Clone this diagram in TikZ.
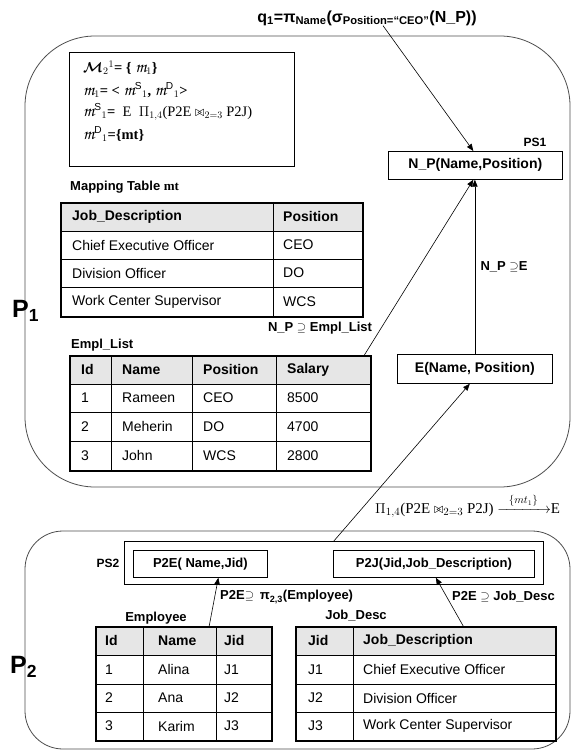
\documentclass[tikz,border=0pt]{standalone}
\usepackage[T1,TU]{fontenc}
\usepackage{amsmath}
\usepackage{amssymb}
\usepackage{fontspec}
\setmainfont{Liberation Sans}
\newfontfamily\timesfont{Liberation Serif}
\usetikzlibrary{arrows.meta}
\definecolor{headgray}{RGB}{230,230,230}
\newcommand{\scm}{{\fontencoding{T1}\fontfamily{pzc}\fontseries{m}\fontshape{it}\fontsize{18}{18}\selectfont m}}
\newcommand{\joinop}{\mathbin{\triangleright\!\!\triangleleft}}

\begin{document}
\begin{tikzpicture}[x=1pt,y=-1pt,
    region/.style={draw=black!70,line width=0.8pt},
    relbox/.style={draw,line width=0.7pt,inner sep=0pt,font=\bfseries\fontsize{14}{16}\selectfont},
    tblframe/.style={draw,line width=2.4pt,inner sep=0pt,anchor=north west},
    cell/.style={anchor=west,inner sep=0pt,font=\fontsize{14}{16}\selectfont},
    hcell/.style={cell,font=\bfseries\fontsize{14}{16}\selectfont},
    lbl/.style={inner sep=0pt,font=\bfseries\fontsize{13}{15}\selectfont},
    mline/.style={anchor=west,inner sep=0pt,font=\timesfont\bfseries\fontsize{14.5}{16}\selectfont},
    arr/.style={-{Triangle[length=7pt,width=5.5pt]},line width=0.6pt}]

\useasboundingbox (0,0) rectangle (583,751);

% the two peers
\draw[region,rounded corners=70] (25,36) rectangle (570,487);
\draw[region,rounded corners=38] (25,531) rectangle (570,749);
\node[anchor=west,inner sep=0pt,font=\bfseries\fontsize{25}{25}\selectfont] (p1) at (12,311) {P\textsubscript{1}};
\node[anchor=west,inner sep=0pt,font=\bfseries\fontsize{25}{25}\selectfont] (p2) at (10,667) {P\textsubscript{2}};

% query
\node[inner sep=0pt,font=\bfseries\fontsize{16}{18}\selectfont] (q) at (367,18)
  {q\textsubscript{1}=π\textsubscript{Name}(σ\textsubscript{Position=“CEO”}(N\_P))};

% mapping box
\node[draw,line width=0.7pt,anchor=north west,minimum width=225,minimum height=114,inner sep=0pt] (mbox) at (69,52) {};
\node[mline] (m1) at (83,68) {$\boldsymbol{\mathcal{M}}_2{}^{1}$= \{ \scm$_1$\}};
\node[mline] (m2) at (83,90) {\scm$_1$= < \scm$^{\mathrm{S}}{}_1$, \scm$^{\mathrm{D}}{}_1$>};
\node[mline] (m3) at (83,112) {\scm$^{\mathrm{S}}{}_1$= \ \textmd{E \ $\Pi_{1,4}$(P2E $\joinop_{2=3}$ P2J)}};
\node[mline] (m4) at (83,134) {\scm$^{\mathrm{D}}{}_1$=\{mt\}};

% mapping table mt
\node[lbl,anchor=west] (mtlbl) at (70,187) {Mapping Table {\timesfont mt}};
\fill[headgray] (60,202) rectangle (362,231);
\node[tblframe,minimum width=302,minimum height=114] (mt) at (60,202) {};
\foreach \y in {231,259,287} \draw[thin] (60,\y) -- (362,\y);
\draw[thin] (273,202) -- (273,316);
\node[hcell] (mth1) at (72,216.5) {Job\_Description};
\node[hcell] (mth2) at (283,216.5) {Position};
\foreach \y/\a/\b [count=\i] in {245/Chief Executive Officer/CEO,273/Division Officer/DO,301.5/Work Center Supervisor/WCS}{
  \node[cell] (mt-\i-a) at (72,\y) {\a};
  \node[cell] (mt-\i-b) at (283,\y) {\b};
}

% Empl_List
\node[lbl,anchor=west] (emlbl) at (71,345) {Empl\_List};
\fill[headgray] (69,355) rectangle (370,384);
\node[tblframe,minimum width=301,minimum height=115] (empl) at (69,355) {};
\foreach \y in {384,412,441} \draw[thin] (69,\y) -- (370,\y);
\foreach \x in {111,192,276} \draw[thin] (\x,355) -- (\x,470);
\foreach \x/\t [count=\i] in {81/Id,122/Name,203/Position,287/Salary}
  \node[hcell] (emh-\i) at (\x,369.5) {\t};
\foreach \y/\a/\b/\c/\d [count=\i] in {398/1/Rameen/CEO/8500,426.5/2/Meherin/DO/4700,455.5/3/John/WCS/2800}{
  \node[cell] (em-\i-a) at (81,\y) {\a};
  \node[cell] (em-\i-b) at (122,\y) {\b};
  \node[cell] (em-\i-c) at (203,\y) {\c};
  \node[cell] (em-\i-d) at (287,\y) {\d};
}

% PS1 side
\node[lbl,font=\bfseries\fontsize{12}{14}\selectfont] (ps1) at (535,142) {PS1};
\node[relbox,anchor=north west,minimum width=174,minimum height=28] (np) at (388,151) {N\_P(Name,Position)};
\node[relbox,anchor=north west,minimum width=155,minimum height=29] (ebox) at (397,354) {E(Name, Position)};
\node[lbl] (npe) at (504,267) {N\_P $\supseteq$E};
\node[lbl] (npel) at (320,328) {N\_P $\supseteq$ Empl\_List};

% rule between the peers
\node[anchor=west,inner sep=0pt,font=\timesfont\fontsize{15}{17}\selectfont] (rule) at (375,506)
  {$\Pi_{1,4}$(P2E $\joinop_{2=3}$ P2J) $\xrightarrow{\hspace{8pt}\{mt_1\}\hspace{8pt}}$E};

% PS2
\node[draw,line width=0.7pt,anchor=north west,minimum width=419,minimum height=43,inner sep=0pt] (ps2) at (124,541) {};
\node[lbl,font=\bfseries\fontsize{12}{14}\selectfont] (ps2lbl) at (108,563) {PS2};
\node[relbox,font=\bfseries\fontsize{13}{15}\selectfont,anchor=north west,minimum width=134,minimum height=27] (p2e) at (133,550) {P2E( Name,Jid)};
\node[relbox,font=\bfseries\fontsize{13}{15}\selectfont,anchor=north west,minimum width=201,minimum height=27] (p2j) at (333,550) {P2J(Jid,Job\_Description)};
\node[lbl,anchor=west] (l2e) at (220,597) {P2E$\supseteq$ \,π\textsubscript{2,3}(Employee)};
\node[lbl,anchor=west] (l2j) at (452,597) {P2E $\supseteq$ Job\_Desc};

% Employee
\node[lbl] (eelbl) at (156,618) {Employee};
\fill[headgray] (95,626) rectangle (271,655);
\node[tblframe,minimum width=176,minimum height=114] (emp) at (95,626) {};
\foreach \y in {655,684,712} \draw[thin] (95,\y) -- (271,\y);
\foreach \x in {143,216} \draw[thin] (\x,626) -- (\x,740);
\foreach \x/\t [count=\i] in {105/Id,158/Name,224/Jid}
  \node[hcell] (eh-\i) at (\x,640.5) {\t};
\foreach \y/\a/\b/\c [count=\i] in {669.5/1/Alina/J1,698/2/Ana/J2,726/3/Karim/J3}{
  \node[cell] (e-\i-a) at (105,\y) {\a};
  \node[cell] (e-\i-b) at (158,\y) {\b};
  \node[cell] (e-\i-c) at (224,\y) {\c};
}

% Job_Desc
\node[lbl] (jdlbl) at (356,616) {Job\_Desc};
\fill[headgray] (295,626) rectangle (555,655);
\node[tblframe,minimum width=260,minimum height=114] (jd) at (295,626) {};
\foreach \y in {655,684,712} \draw[thin] (295,\y) -- (555,\y);
\draw[thin] (353,626) -- (353,740);
\node[hcell] (jh-1) at (308,640.5) {Jid};
\node[hcell] (jh-2) at (363,640.5) {Job\_Description};
\foreach \y/\a/\b [count=\i] in {669.5/J1/Chief Executive Officer,698/J2/Division Officer,726/J3/Work Center Supervisor}{
  \node[cell] (j-\i-a) at (308,\y) {\a};
  \node[cell] (j-\i-b) at (363,\y) {\b};
}

% connectors
\draw[arr] ([xshift=16pt]q.south) -- ([xshift=-2pt]np.north);
\draw[arr] ([xshift=-8pt]empl.north east) -- ([xshift=-2pt]np.south);
\draw[arr] (ebox.north) -- (np.south -| ebox.north);
\draw[arr] (ps2.north) -- ([xshift=-5pt]ebox.south);
\draw[arr] ([xshift=25pt]emp.north) -- ([xshift=18pt]p2e.south);
\draw[arr] ([xshift=37pt]jd.north) -- ([xshift=2pt]p2j.south);
\end{tikzpicture}
\end{document}
